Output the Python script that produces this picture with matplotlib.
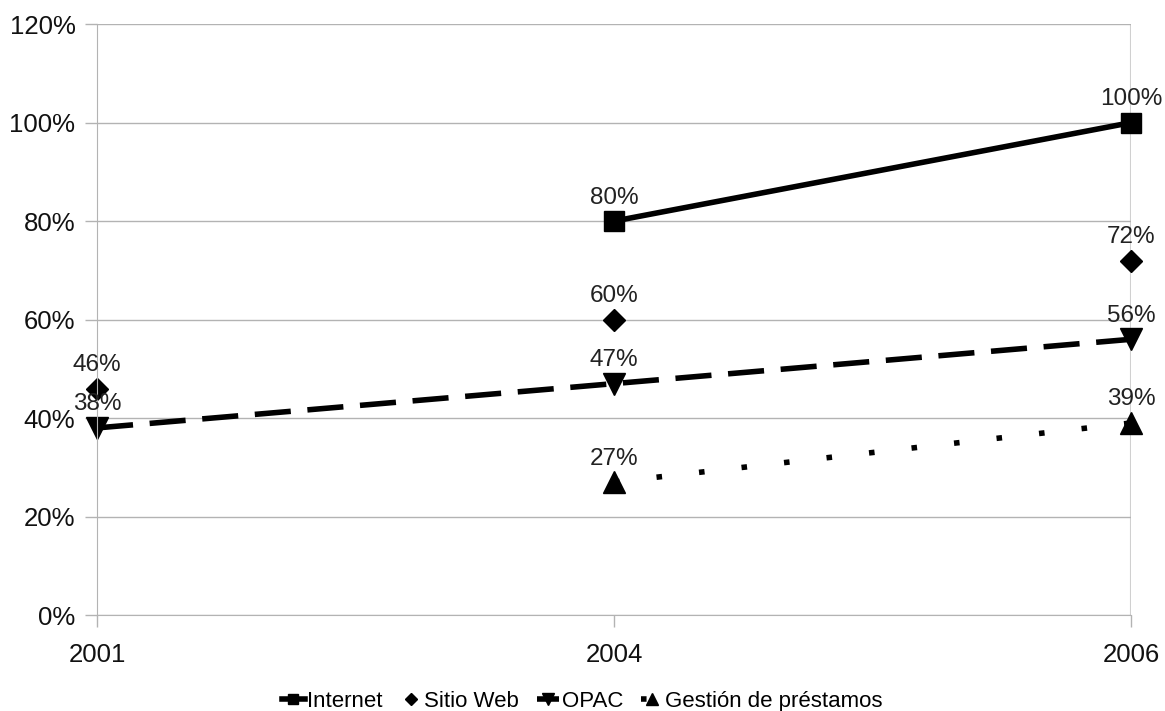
import numpy as np
import matplotlib.pyplot as plt

plt.rcParams['font.family'] = ['Liberation Sans', 'DejaVu Sans']

years = ["2001", "2004", "2006"]
internet = [np.nan, 80, 100]
sitio_web = [46, 60, 72]
opac = [38, 47, 56]
prestamos = [np.nan, 27, 39]

fig = plt.figure(figsize=(11.65, 7.11), dpi=100)
ax = fig.add_axes([0.0833, 0.135, 0.8875, 0.831])

x = np.arange(len(years))

ax.plot(x, internet, color="black", lw=4, marker="s", ms=14, label="Internet", clip_on=False)
ax.plot(x, sitio_web, color="black", lw=0, marker="D", ms=11, label="Sitio Web", clip_on=False)
ax.plot(x, opac, color="black", lw=4, ls=(0, (6.5, 3)), marker="v", ms=16, label="OPAC",
        clip_on=False)
ax.plot(x, prestamos, color="black", lw=4, ls=(0, (1, 6.7)), marker="^", ms=16,
        label="Gestión de préstamos", clip_on=False)

# value labels above each point
for series in (internet, sitio_web, opac, prestamos):
    for xi, v in zip(x, series):
        if np.isnan(v):
            continue
        ax.annotate(f"{v:.0f}%", (xi, v), xytext=(0, 9), textcoords="offset points",
                    ha="center", va="bottom", fontsize=17.5, color="#222222")

ax.set_xlim(0, 2)
ax.set_ylim(0, 120)
ax.set_yticks(range(0, 121, 20))
ax.set_yticklabels([f"{t}%" for t in range(0, 121, 20)])
ax.set_xticks(x)
ax.set_xticklabels(years)
ax.tick_params(axis="both", labelsize=18.5, color="#b3b3b3", length=8.6, width=1,
               labelcolor="#111111")
ax.tick_params(axis="x", pad=11.5)
ax.tick_params(axis="y", pad=7)
ax.grid(axis="y", color="#b3b3b3", lw=1)
ax.set_axisbelow(True)
for side in ("top", "right"):
    ax.spines[side].set_visible(False)
ax.spines["left"].set_color("#b3b3b3")
ax.spines["bottom"].set_color("#b3b3b3")
ax.axvline(2, color="#d0d0d0", lw=1.5, zorder=0)

leg = fig.legend(loc="center", bbox_to_anchor=(0.5, 0.013), ncol=4, frameon=False,
                 fontsize=16, handlelength=1.0, handletextpad=0.1, columnspacing=0.8,
                 markerscale=0.55)

fig.savefig("out.png", dpi=100)
